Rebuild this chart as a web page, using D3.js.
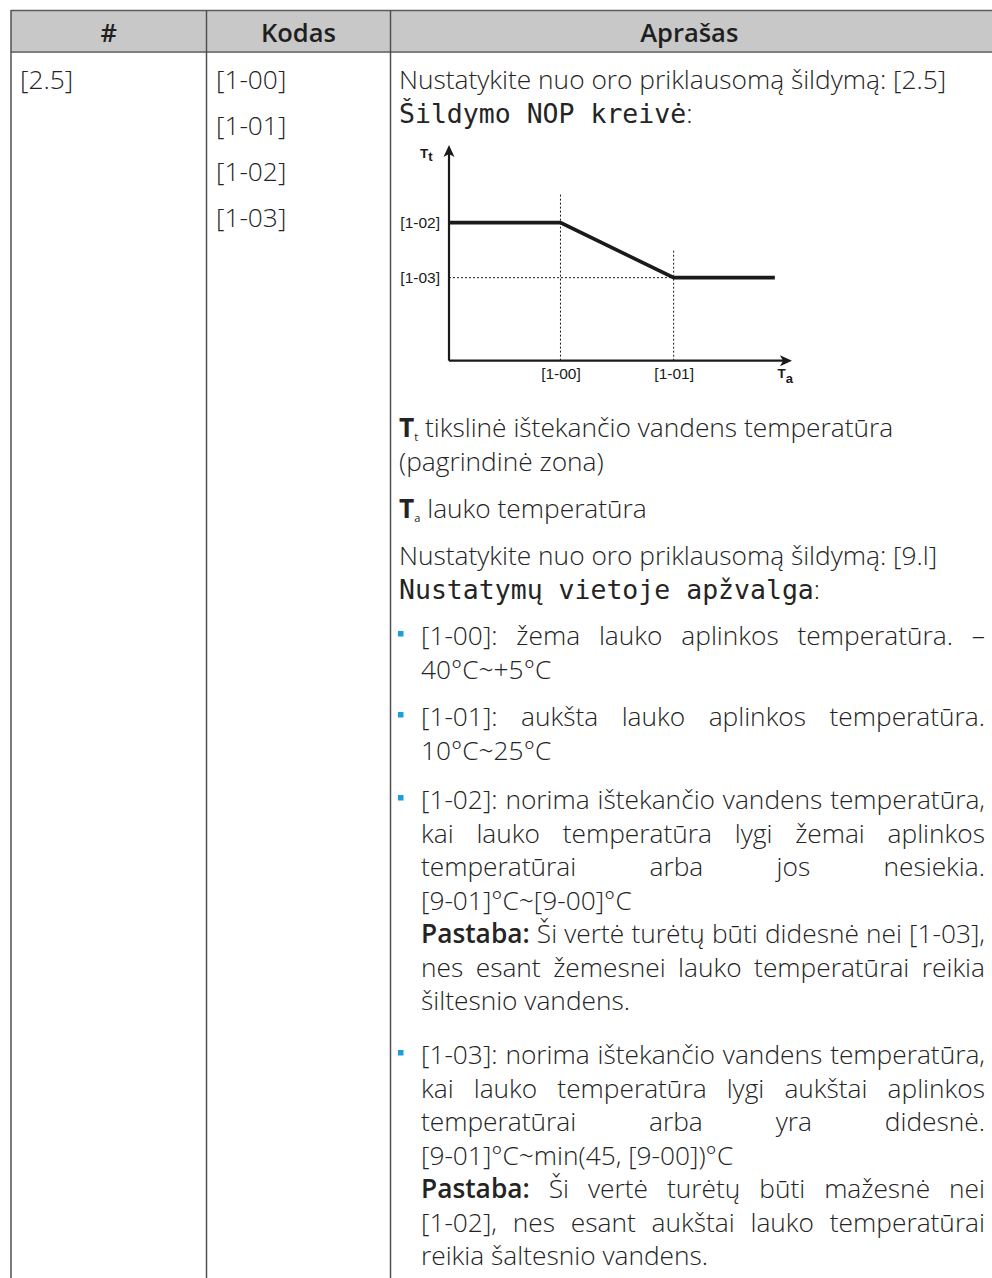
<!DOCTYPE html>
<html>
<head>
<meta charset="utf-8">
<script src="https://cdn.jsdelivr.net/npm/d3@7"></script>
<style>
  body { margin: 0; background: #fff; }
  svg { display: block; }
</style>
</head>
<body>
<div id="chart-area"></div>
<script>

// Table content
var headers = ["#", "Kodas", "Aprašas"];
var menuCodes = ["[2.5]"];
var fieldCodes = ["[1-00]", "[1-01]", "[1-02]", "[1-03]"];

// Heating curve (relative units on both axes, 0..10)
var curveX = [0, 3.25, 6.55, 9.5];
var curveY = [6.4, 6.4, 3.85, 3.85];
var xTickValues = [3.25, 6.55];
var xTickLabels = ["[1-00]", "[1-01]"];
var yTickValues = [6.4, 3.85];
var yTickLabels = ["[1-02]", "[1-03]"];
var guideTops = [7.7, 5.1];

// Description text, one entry per line: [segments, justified]
// n = normal, b = bold, m = monospace, T = bold symbol, s = subscript
var introLines = [
  [[["n", "Nustatykite nuo oro priklausomą šildymą: [2.5]"]], false],
  [[["m", "Šildymo NOP kreivė"], ["n", ":"]], false]
];
var legendLines = [
  [[["T", "T"], ["s", "t"], ["n", " tikslinė ištekančio vandens temperatūra"]], false],
  [[["n", "(pagrindinė zona)"]], false]
];
var legendLines2 = [
  [[["T", "T"], ["s", "a"], ["n", " lauko temperatūra"]], false]
];
var overviewLines = [
  [[["n", "Nustatykite nuo oro priklausomą šildymą: [9.l]"]], false],
  [[["m", "Nustatymų vietoje apžvalga"], ["n", ":"]], false]
];
var bullet1 = [
  [[["n", "[1-00]: žema lauko aplinkos temperatūra. –"]], true],
  [[["n", "40°C~+5°C"]], false]
];
var bullet2 = [
  [[["n", "[1-01]: aukšta lauko aplinkos temperatūra."]], true],
  [[["n", "10°C~25°C"]], false]
];
var bullet3 = [
  [[["n", "[1-02]: norima ištekančio vandens temperatūra,"]], true],
  [[["n", "kai lauko temperatūra lygi žemai aplinkos"]], true],
  [[["n", "temperatūrai arba jos nesiekia."]], true],
  [[["n", "[9-01]°C~[9-00]°C"]], false],
  [[["b", "Pastaba:"], ["n", " Ši vertė turėtų būti didesnė nei [1-03],"]], true],
  [[["n", "nes esant žemesnei lauko temperatūrai reikia"]], true],
  [[["n", "šiltesnio vandens."]], false]
];
var bullet4 = [
  [[["n", "[1-03]: norima ištekančio vandens temperatūra,"]], true],
  [[["n", "kai lauko temperatūra lygi aukštai aplinkos"]], true],
  [[["n", "temperatūrai arba yra didesnė."]], true],
  [[["n", "[9-01]°C~min(45, [9-00])°C"]], false],
  [[["b", "Pastaba:"], ["n", " Ši vertė turėtų būti mažesnė nei"]], true],
  [[["n", "[1-02], nes esant aukštai lauko temperatūrai"]], true],
  [[["n", "reikia šaltesnio vandens."]], false]
];


// SVG drawing area
var width = 992, height = 1278;

var svg = d3.select("#chart-area").append("svg")
    .attr("width", width)
    .attr("height", height);

var tbl = {left: 11, top: 10, head: 52, col1: 206.5, col2: 390.5, right: 992};

var textColor = "#242424";
var lineH = 33.5;
var fs = 26.3;

var styles = {
  n: {family: "'Open Sans', sans-serif", weight: 300, size: fs, dy: 0},
  b: {family: "'Open Sans', sans-serif", weight: 600, size: fs, dy: 0},
  T: {family: "'Open Sans', sans-serif", weight: 700, size: fs, dy: 0},
  s: {family: "'Open Sans', sans-serif", weight: 400, size: 11, dy: 4},
  m: {family: "'DejaVu Sans Mono', monospace", weight: 400, size: 26.5, dy: 0}
};

function applyStyle(sel, st) {
  return sel.attr("font-family", st.family)
      .attr("font-weight", st.weight)
      .attr("font-size", st.size);
}

// hidden text for measuring
var meas = svg.append("text").attr("x", -999).attr("y", -999).attr("visibility", "hidden");
function textWidth(str, key) {
  applyStyle(meas, styles[key]).text(str);
  return meas.node().getComputedTextLength();
}
var spaceW = textWidth("a a", "n") - textWidth("aa", "n");


// Header band
svg.append("rect")
    .attr("x", tbl.left).attr("y", tbl.top)
    .attr("width", tbl.right - tbl.left).attr("height", tbl.head - tbl.top)
    .attr("fill", "#c8c8c8");

svg.append("line")
    .attr("x1", tbl.left).attr("x2", tbl.right)
    .attr("y1", tbl.top + 0.5).attr("y2", tbl.top + 0.5)
    .attr("stroke", "#5c5c5c").attr("stroke-width", 1.5);

svg.append("line")
    .attr("x1", tbl.left).attr("x2", tbl.right)
    .attr("y1", tbl.head).attr("y2", tbl.head)
    .attr("stroke", "#7e7e7e").attr("stroke-width", 2);

svg.selectAll(".vline")
    .data([tbl.left, tbl.col1, tbl.col2])
  .enter().append("line")
    .attr("class", "vline")
    .attr("x1", function(d) { return d; }).attr("x2", function(d) { return d; })
    .attr("y1", tbl.top).attr("y2", height)
    .attr("stroke", "#505050").attr("stroke-width", 1.5);

var colCenters = [(tbl.left + tbl.col1) / 2, (tbl.col1 + tbl.col2) / 2, (tbl.col2 + tbl.right) / 2 - 2];

svg.selectAll(".head")
    .data(headers)
  .enter().append("text")
    .attr("class", "head")
    .attr("x", function(d, i) { return colCenters[i]; })
    .attr("y", 42)
    .attr("text-anchor", "middle")
    .attr("font-family", "'Open Sans', sans-serif")
    .attr("font-weight", 600)
    .attr("font-size", 25.5)
    .attr("fill", "#1f1f1f")
    .text(function(d) { return d; });


// Column 1 and 2
svg.selectAll(".menu")
    .data(menuCodes)
  .enter().append("text")
    .attr("class", "menu")
    .attr("x", 20).attr("y", 89)
    .call(applyStyle, styles.n)
    .attr("fill", textColor)
    .text(function(d) { return d; });

svg.selectAll(".code")
    .data(fieldCodes)
  .enter().append("text")
    .attr("class", "code")
    .attr("x", 216)
    .attr("y", function(d, i) { return 89 + i * 46; })
    .call(applyStyle, styles.n)
    .attr("fill", textColor)
    .text(function(d) { return d; });


// Description column text
var textLeft = 399, bulletLeft = 421, textRight = 985;

function drawLine(segs, justify, x0, yc) {
  var tokens = [];
  segs.forEach(function(seg) {
    var key = seg[0], str = seg[1];
    if (key === "m" || key === "s" || key === "T") {
      tokens.push({key: key, text: str, gap: false});
    } else {
      str.split(" ").forEach(function(p, i) {
        if (p === "") return;
        tokens.push({key: key, text: p, gap: i > 0});
      });
    }
  });
  tokens.forEach(function(t) { t.w = textWidth(t.text, t.key); });
  var sum = d3.sum(tokens, function(t) { return t.w; });
  var nGaps = tokens.filter(function(t) { return t.gap; }).length;
  var gapW = justify && nGaps ? (textRight - x0 - sum) / nGaps : spaceW;

  var x = x0, y = yc + 9;
  tokens.forEach(function(t) {
    if (t.gap) x += gapW;
    svg.append("text")
        .attr("x", x)
        .attr("y", y + styles[t.key].dy)
        .call(applyStyle, styles[t.key])
        .attr("fill", textColor)
        .text(t.text);
    x += t.w;
  });
}

function drawBlock(lines, yTop, bullet) {
  var x0 = bullet ? bulletLeft : textLeft;
  if (bullet) {
    svg.append("rect")
        .attr("x", 398).attr("y", yTop - 5)
        .attr("width", 5.5).attr("height", 5.5)
        .attr("fill", "#1b9ee0");
  }
  lines.forEach(function(l, i) {
    drawLine(l[0], l[1], x0, yTop + i * lineH);
  });
}

drawBlock(introLines, 80, false);
drawBlock(legendLines, 428, false);
drawBlock(legendLines2, 509, false);
drawBlock(overviewLines, 556, false);
drawBlock(bullet1, 636, true);
drawBlock(bullet2, 717, true);
drawBlock(bullet3, 800, true);
drawBlock(bullet4, 1055, true);


// Heating curve diagram
var x = d3.scaleLinear().domain([0, 10]).range([449, 792]);
var y = d3.scaleLinear().domain([0, 10]).range([360.7, 145]);

var ink = "#1a1a1a";
var chart = svg.append("g").attr("class", "curve-chart");

// dotted guides
chart.selectAll(".vguide")
    .data(xTickValues)
  .enter().append("line")
    .attr("class", "vguide")
    .attr("x1", function(d) { return x(d); }).attr("x2", function(d) { return x(d); })
    .attr("y1", function(d, i) { return y(guideTops[i]); })
    .attr("y2", y(0))
    .attr("stroke", ink).attr("stroke-width", 1)
    .attr("stroke-dasharray", "2,2");

chart.append("line")
    .attr("x1", x(0)).attr("x2", x(curveX[2]))
    .attr("y1", y(curveY[2])).attr("y2", y(curveY[2]))
    .attr("stroke", ink).attr("stroke-width", 1)
    .attr("stroke-dasharray", "2,2");

// axes
var xAxis = d3.axisBottom(x)
    .tickValues(xTickValues)
    .tickFormat(function(d, i) { return xTickLabels[i]; })
    .tickSize(0).tickPadding(7);

var yAxis = d3.axisLeft(y)
    .tickValues(yTickValues)
    .tickFormat(function(d, i) { return yTickLabels[i]; })
    .tickSize(0).tickPadding(9);

var gx = chart.append("g")
    .attr("transform", "translate(0," + y(0) + ")")
    .call(xAxis);
gx.select(".domain").attr("d", "M" + x(0) + ",0H" + (x(10) - 6))
    .attr("stroke", ink).attr("stroke-width", 2.2);

var gy = chart.append("g")
    .attr("transform", "translate(" + x(0) + ",0)")
    .call(yAxis);
gy.select(".domain").attr("d", "M0," + y(0) + "V" + (y(10) + 6))
    .attr("stroke", ink).attr("stroke-width", 2.2);

chart.selectAll(".tick text")
    .attr("font-family", "'Liberation Sans', Arial, sans-serif")
    .attr("font-size", 15.5)
    .attr("fill", ink);

// arrow heads
chart.append("path")
    .attr("d", "M" + x(10) + "," + y(0) + "l-12,-5.5l3,5.5l-3,5.5z")
    .attr("fill", ink);
chart.append("path")
    .attr("d", "M" + x(0) + "," + y(10) + "l-5.5,12l5.5,-3l5.5,3z")
    .attr("fill", ink);

// curve
var pts = curveX.map(function(d, i) { return [d, curveY[i]]; });
chart.append("path")
    .datum(pts)
    .attr("d", d3.line()
        .x(function(d) { return x(d[0]); })
        .y(function(d) { return y(d[1]); }))
    .attr("fill", "none")
    .attr("stroke", ink)
    .attr("stroke-width", 3.6);

// axis titles
var tt = chart.append("text")
    .attr("x", 420).attr("y", 157.5)
    .attr("font-family", "'Liberation Sans', Arial, sans-serif")
    .attr("font-weight", 700).attr("font-size", 13.5)
    .attr("fill", ink);
tt.append("tspan").text("T");
tt.append("tspan").attr("dy", 3.5).attr("font-size", 13).text("t");

var ta = chart.append("text")
    .attr("x", 777.5).attr("y", 378)
    .attr("font-family", "'Liberation Sans', Arial, sans-serif")
    .attr("font-weight", 700).attr("font-size", 13.5)
    .attr("fill", ink);
ta.append("tspan").text("T");
ta.append("tspan").attr("dy", 5).attr("font-size", 13).text("a");

</script>
</body>
</html>
